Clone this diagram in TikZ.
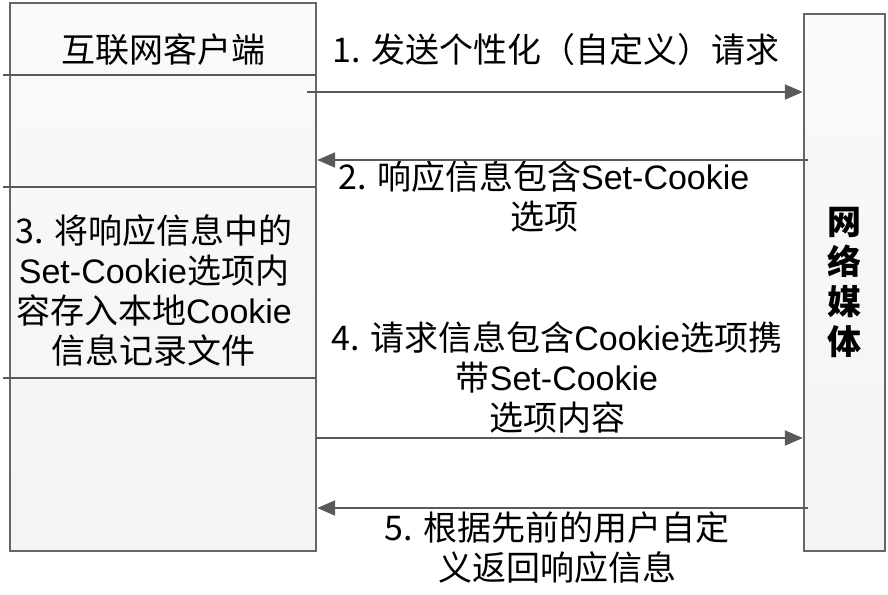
\documentclass[tikz,border=0pt]{standalone}
\usepackage{fontspec}
\setmainfont{Noto Sans CJK SC}
\newfontfamily\latinfont{Liberation Sans}
\usepackage{tikz}
\usetikzlibrary{arrows.meta,positioning}
\tikzstyle{lane} = [rectangle, draw=black!60, line width=1.2pt, top color=gray!4, bottom color=gray!9, inner sep=0pt]
\tikzstyle{msg} = [align=center, font=\fontsize{17pt}{20pt}\selectfont, inner sep=0pt]
\tikzstyle{wire} = [draw=black!65, line width=1pt]
\newcommand{\ck}[1]{{\latinfont #1}}

\begin{document}
\begin{tikzpicture}[>={Triangle[length=9pt,width=7.5pt]}]
  \useasboundingbox (0pt,0pt) rectangle (444pt,-297pt);
  \draw (81.5pt, -138.5pt)node[lane, minimum width=153pt, minimum height=274pt](client){};
  \draw (422.25pt, -141.25pt)node[lane, minimum width=40.5pt, minimum height=268.5pt, align=center, font=\bfseries\fontsize{17pt}{20pt}\selectfont](media){网\\络\\媒\\体};
  \draw[wire] (1.5pt, -37.5pt) -- (158pt, -37.5pt);
  \draw[wire] (1.5pt, -93.5pt) -- (158pt, -93.5pt);
  \draw[wire] (1.5pt, -189pt) -- (158pt, -189pt);
  \draw (81.5pt, -25.0pt)node[msg](title){互联网客户端};
  \draw (278.0pt, -25.0pt)node[msg](m1){1. 发送个性化（自定义）请求};
  \draw (272.0pt, -98.0pt)node[msg](m2){2. 响应信息包含\ck{Set-Cookie}\\选项};
  \draw (77.0pt, -145.0pt)node[msg](m3){3. 将响应信息中的\\\ck{Set-Cookie}选项内\\容存入本地\ck{Cookie}\\信息记录文件};
  \draw (278.5pt, -188.5pt)node[msg](m4){4. 请求信息包含\ck{Cookie}选项携\\带\ck{Set-Cookie}\\选项内容};
  \draw (278.5pt, -274.0pt)node[msg](m5){5. 根据先前的用户自定\\义返回响应信息};
  \coordinate (s1) at (153.5pt, -46.0pt);
  \coordinate (s2) at (404.0pt, -80.0pt);
  \coordinate (s4) at (158.0pt, -219.0pt);
  \coordinate (s5) at (404.0pt, -254.0pt);
  \path[->] (s1) edge[wire] (media.west |- s1);
  \path[->] (s2) edge[wire] (client.east |- s2);
  \path[->] (s4) edge[wire] (media.west |- s4);
  \path[->] (s5) edge[wire] (client.east |- s5);
\end{tikzpicture}
\end{document}
